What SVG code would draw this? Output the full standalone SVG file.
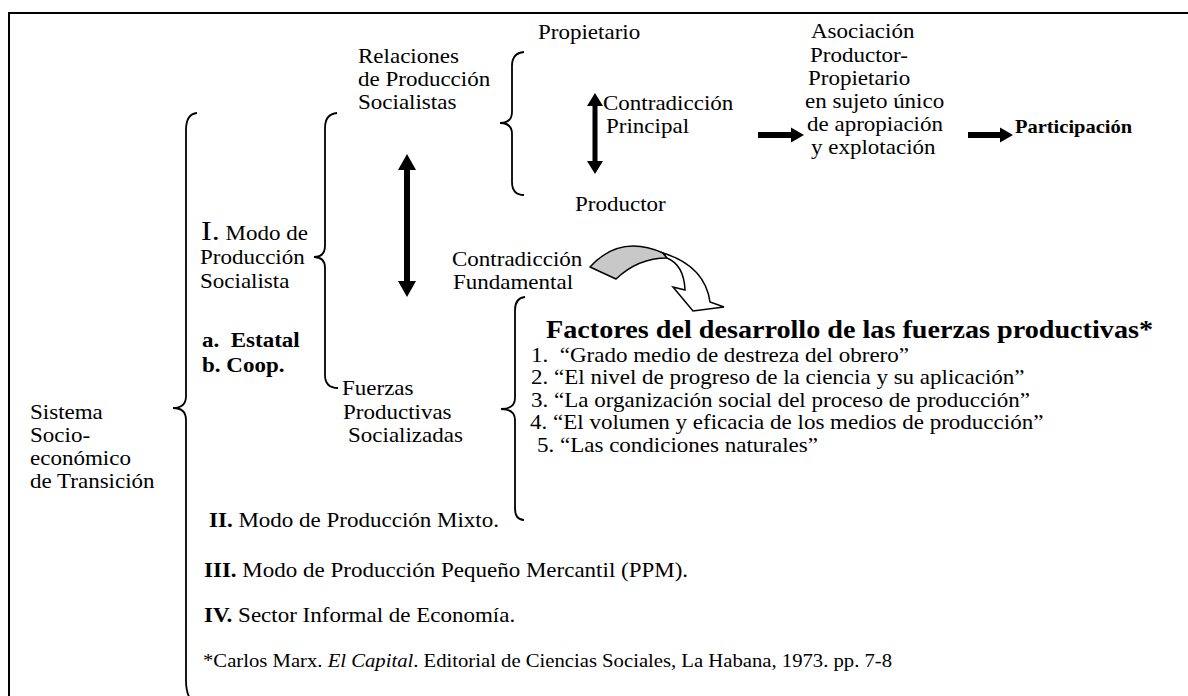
<svg xmlns="http://www.w3.org/2000/svg" width="1188" height="696" viewBox="0 0 1188 696">
<style>
.t{font-family:"Liberation Serif","Times New Roman",serif;font-size:20px;fill:#000}
.b{font-weight:bold}
.h{font-family:"Liberation Serif","Times New Roman",serif;font-size:24.5px;font-weight:bold;fill:#000}
.p{font-family:"Liberation Serif","Times New Roman",serif;font-size:17.8px;font-weight:bold;fill:#000}
.fn{font-family:"Liberation Serif","Times New Roman",serif;font-size:18px;fill:#000}
.brace{fill:none;stroke:#000;stroke-width:1.8}
.frame{fill:none;stroke:#000;stroke-width:2}
.arr{fill:#000;stroke:none}
</style>
<rect x="0" y="0" width="1188" height="696" fill="#fff"/>
<path class="frame" d="M9,697 L9,13 L1189,13"/>

<g id="braces">
<path class="brace" d="M524,52 Q512,53 512,66 L512,112 Q512,123 500,123 Q512,123 512,134 L512,182 Q512,195 524,195"/>
<path class="brace" d="M337,113 Q325,114 325,128 L325,246 Q325,257 314,257 Q325,257 325,268 L325,375 Q325,388 338,388"/>
<path class="brace" d="M197,113 Q186,114 186,130 L186,396 Q186,408 173,408 Q186,408 186,420 L186,680 Q186,696 193,702"/>
<path class="brace" d="M525,297 Q515,298 515,310 L515,398 Q515,409 501,409 Q515,409 515,420 L515,508 Q515,520 524,520"/>
</g>

<g id="connectors">
<polygon class="arr" points="407,154 416,170 410,170 410,281 416,281 407,297 398,281 404,281 404,170 398,170"/>
<polygon class="arr" points="595,93 603,106 597.5,106 597.5,161 603,161 595,174 587,161 592.5,161 592.5,106 587,106"/>
<polygon class="arr" points="758,132 791,132 791,127.5 804,135 791,142.5 791,138 758,138"/>
<polygon class="arr" points="968,132 1000,132 1000,127.5 1013,135 1000,142.5 1000,138 968,138"/>
<path d="M590,267 Q620,234 663,253 Q665,256 667,258 Q638,258 616,279 Z" fill="#c8c8c8" stroke="#000" stroke-width="1.5" stroke-linejoin="round"/>
<path d="M663,253 Q705,266 710,302 L724,307 L693,311 L673,287 L685,290 Q684,265 667,258 Z" fill="#fff" stroke="#000" stroke-width="1.5" stroke-linejoin="miter"/>
</g>

<g id="n-sistema">
<text class="t" transform="translate(30,419) scale(1.15,1)">Sistema</text>
<text class="t" transform="translate(30,442) scale(1.15,1)">Socio-</text>
<text class="t" transform="translate(30,465) scale(1.15,1)">económico</text>
<text class="t" transform="translate(30,488) scale(1.15,1)">de Transición</text>
</g>

<g id="n-modo-socialista">
<text class="t" transform="translate(201,240) scale(1.15,1)"><tspan font-size="28">I.</tspan> Modo de</text>
<text class="t" transform="translate(200,264) scale(1.15,1)">Producción</text>
<text class="t" transform="translate(200,288) scale(1.15,1)">Socialista</text>
</g>

<g id="n-tipos">
<text class="t b" transform="translate(202,347) scale(1.15,1)">a.&#160; Estatal</text>
<text class="t b" transform="translate(202,372) scale(1.15,1)">b. Coop.</text>
</g>

<g id="n-relaciones">
<text class="t" transform="translate(358,63) scale(1.15,1)">Relaciones</text>
<text class="t" transform="translate(358,86) scale(1.15,1)">de Producción</text>
<text class="t" transform="translate(358,109) scale(1.15,1)">Socialistas</text>
</g>

<g id="n-propietario">
<text class="t" transform="translate(538,39) scale(1.15,1)">Propietario</text>
</g>

<g id="n-productor">
<text class="t" transform="translate(575,211) scale(1.15,1)">Productor</text>
</g>

<g id="n-principal">
<text class="t" transform="translate(603,110) scale(1.15,1)">Contradicción</text>
<text class="t" transform="translate(606,133) scale(1.15,1)">Principal</text>
</g>

<g id="n-asociacion">
<text class="t" transform="translate(811,38) scale(1.15,1)">Asociación</text>
<text class="t" transform="translate(810,62) scale(1.15,1)">Productor-</text>
<text class="t" transform="translate(808,85) scale(1.15,1)">Propietario</text>
<text class="t" transform="translate(805,108) scale(1.15,1)">en sujeto único</text>
<text class="t" transform="translate(807,131) scale(1.15,1)">de apropiación</text>
<text class="t" transform="translate(811,154) scale(1.15,1)">y explotación</text>
</g>

<g id="n-participacion">
<text class="p" transform="translate(1015,133) scale(1.15,1)">Participación</text>
</g>

<g id="n-fundamental">
<text class="t" transform="translate(452,266) scale(1.15,1)">Contradicción</text>
<text class="t" transform="translate(453,289) scale(1.15,1)">Fundamental</text>
</g>

<g id="n-fuerzas">
<text class="t" transform="translate(342,395) scale(1.15,1)">Fuerzas</text>
<text class="t" transform="translate(343,419) scale(1.15,1)">Productivas</text>
<text class="t" transform="translate(348,442) scale(1.15,1)">Socializadas</text>
</g>

<g id="n-factores">
<text class="h" transform="translate(546,338) scale(1.15,1)">Factores del desarrollo de las fuerzas productivas*</text>
<text class="t" transform="translate(531,362) scale(1.15,1)">1.&#160; “Grado medio de destreza del obrero”</text>
<text class="t" transform="translate(531,384) scale(1.15,1)">2. “El nivel de progreso de la ciencia y su aplicación”</text>
<text class="t" transform="translate(531,407) scale(1.15,1)">3. “La organización social del proceso de producción”</text>
<text class="t" transform="translate(530,429) scale(1.15,1)">4. “El volumen y eficacia de los medios de producción”</text>
<text class="t" transform="translate(537,452) scale(1.15,1)">5. “Las condiciones naturales”</text>
</g>

<g id="n-mixto">
<text class="t" transform="translate(209,527) scale(1.15,1)"><tspan class="b">II.</tspan> Modo de Producción Mixto.</text>
</g>

<g id="n-ppm">
<text class="t" transform="translate(204,577) scale(1.15,1)"><tspan class="b">III.</tspan> Modo de Producción Pequeño Mercantil (PPM).</text>
</g>

<g id="n-informal">
<text class="t" transform="translate(204,622) scale(1.15,1)"><tspan class="b">IV.</tspan> Sector Informal de Economía.</text>
</g>

<g id="n-nota">
<text class="fn" transform="translate(203,667) scale(1.15,1)">*Carlos Marx. <tspan font-style="italic">El Capital</tspan>. Editorial de Ciencias Sociales, La Habana, 1973. pp. 7-8</text>
</g>
</svg>
